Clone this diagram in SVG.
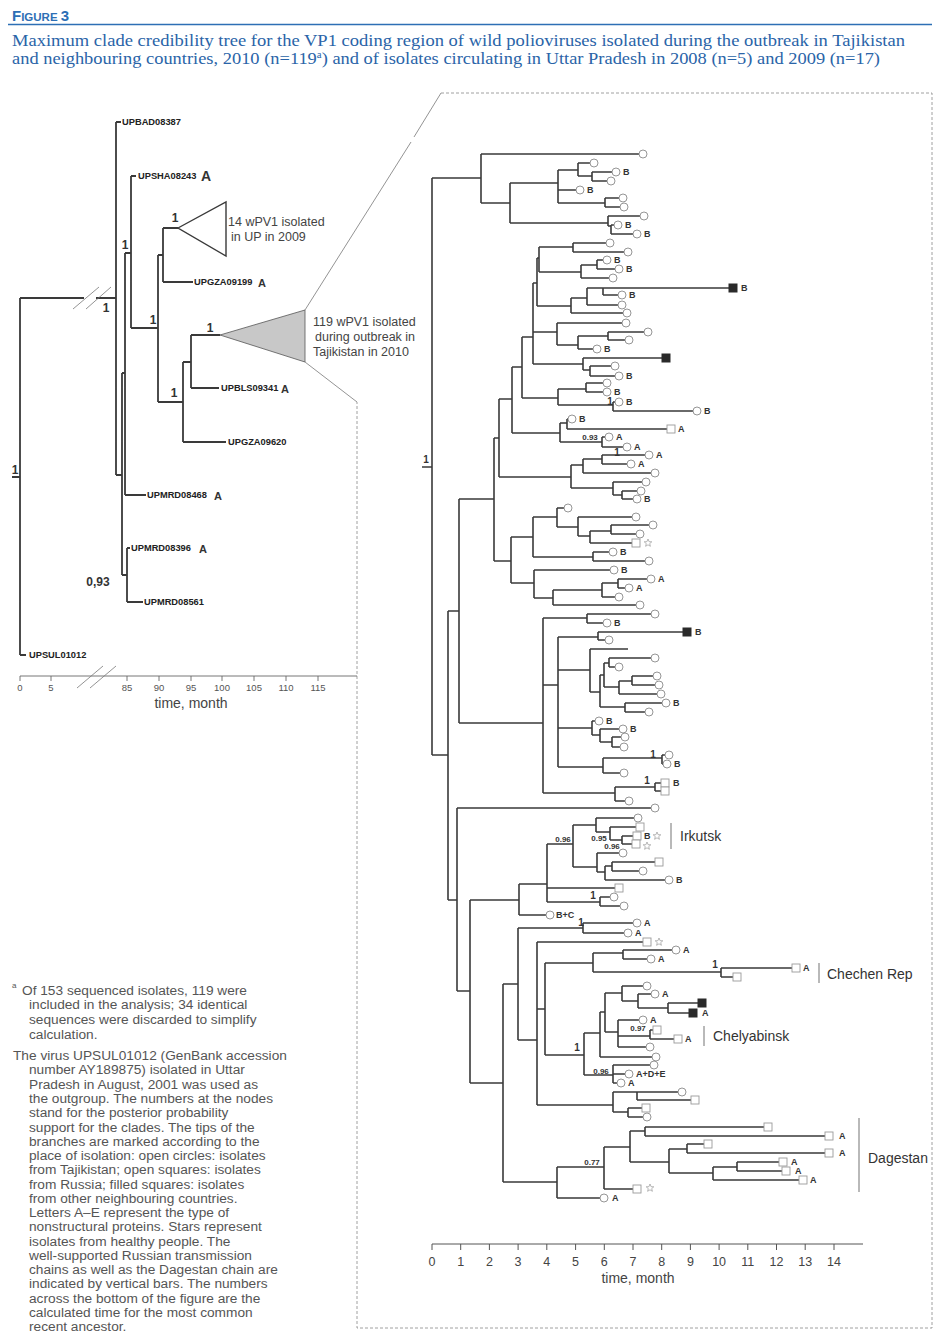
<svg xmlns="http://www.w3.org/2000/svg" xmlns:xlink="http://www.w3.org/1999/xlink" width="943" height="1340" viewBox="0 0 943 1340">
<style>
.br{fill:none;stroke:#3a3a3a;stroke-width:1.6}
.brl{fill:none;stroke:#3a3a3a;stroke-width:1.8}
.thin{fill:none;stroke:#777;stroke-width:0.8}
.dash{fill:none;stroke:#888;stroke-width:0.8;stroke-dasharray:3 2}
.lt{font-family:"Liberation Sans",Arial,sans-serif;font-weight:bold;font-size:9.3px;fill:#222}
.lA{font-family:"Liberation Sans",Arial,sans-serif;font-weight:bold;font-size:11px;fill:#333}
.sup{font-family:"Liberation Sans",Arial,sans-serif;font-weight:bold;font-size:12px;fill:#333;text-anchor:middle}
.lb{font-family:"Liberation Sans",Arial,sans-serif;font-weight:bold;font-size:9px;fill:#333}
.pp{font-family:"Liberation Sans",Arial,sans-serif;font-weight:bold;font-size:8px;fill:#333;text-anchor:middle}
.p1{font-family:"Liberation Sans",Arial,sans-serif;font-weight:bold;font-size:10px;fill:#333;text-anchor:middle}
.ax{font-family:"Liberation Sans",Arial,sans-serif;font-size:9.5px;fill:#555;text-anchor:middle}
.axr{font-family:"Liberation Sans",Arial,sans-serif;font-size:12.5px;fill:#444;text-anchor:middle}
.ttl{font-family:"Liberation Sans",Arial,sans-serif;font-size:14px;fill:#444;text-anchor:middle}
.grp{font-family:"Liberation Sans",Arial,sans-serif;font-size:14px;fill:#333}
.note{font-family:"Liberation Sans",Arial,sans-serif;font-size:12.5px;fill:#444}
.fn{font-family:"Liberation Sans",Arial,sans-serif;font-size:13.7px;fill:#555}
.cap{font-family:"Liberation Serif","Times New Roman",serif;font-size:17px;fill:#2a64a8}
.bar{stroke:#8a8a8a;stroke-width:1.2}
</style>
<defs>
<circle id="c" r="4" fill="#fff" stroke="#8a8a8a" stroke-width="0.9"/>
<rect id="s" x="-4" y="-4" width="8" height="8" fill="#fff" stroke="#9a9a9a" stroke-width="0.9"/>
<rect id="f" x="-4.5" y="-4.5" width="9" height="9" fill="#2a2a2a"/>
<polygon id="st" points="0,-4 1.1,-1.3 3.8,-1.2 1.7,0.6 2.4,3.3 0,1.8 -2.4,3.3 -1.7,0.6 -3.8,-1.2 -1.1,-1.3" fill="#fff" stroke="#999" stroke-width="0.7"/>
</defs>
<rect width="943" height="1340" fill="#fff"/>

<g id="header">
<text x="12" y="21" font-family="'Liberation Sans',Arial,sans-serif" font-weight="bold" fill="#2d6fb5"><tspan font-size="15">F</tspan><tspan font-size="11.5">IGURE </tspan><tspan font-size="15">3</tspan></text>
<line x1="8" y1="24.5" x2="932" y2="24.5" stroke="#2d6fb5" stroke-width="1.4"/>
<text class="cap" x="12" y="46" textLength="893" lengthAdjust="spacingAndGlyphs">Maximum clade credibility tree for the VP1 coding region of wild polioviruses isolated during the outbreak in Tajikistan</text>
<text class="cap" x="12" y="64" textLength="868" lengthAdjust="spacingAndGlyphs">and neighbouring countries, 2010 (n=119<tspan font-size="10" dy="-6">a</tspan><tspan dy="6">) and of isolates circulating in Uttar Pradesh in 2008 (n=5) and 2009 (n=17)</tspan></text>
</g>

<g id="connectors">
<path class="brl" d="M20 298V655 M20 655H26 M20 298H84 M96 298H116 M12 477H20
M116 122V475 M116 122H121 M116 475H122
M122 373V575 M122 373H125 M122 575H127
M125 253V495 M125 253H131 M125 495H146
M131 176V328 M131 176H136 M131 328H158
M158 255V402 M158 255H163 M158 402H183
M163 228V282 M163 228H178 M163 282H193
M183 362V442 M183 362H191 M183 442H226
M191 335V388 M191 335H220 M191 388H219
M127 548V602 M127 548H130 M127 602H143"/>
<path class="thin" d="M73 309L99 287 M86 309L111 287"/>
<path class="thin" d="M441 93L414 137 M411 142L305 310 M305 362L357 402"/>
<path class="dash" d="M441 93H932V1328H357V402"/>
<path class="br" d="M422 467H432 M432 178V755 M432 178H481 M432 755H448
M481 154V203 M481 154H639 M481 203H510
M510 183V223 M510 183H558 M510 223H608
M558 170V203 M558 170H578 M558 190H576 M558 203H605
M578 163V176 M578 163H590 M578 176H592
M592 172V181 M592 172H612 M592 181H607
M605 198V207 M605 198H619 M605 207H620
M608 216V226 M608 216H640 M608 226H611
M611 225V234 M611 225H614 M611 234H633
M448 611V900 M448 611H459 M448 900H457
M459 499V723 M459 499H494 M459 723H543
M494 438V561 M494 438H499 M494 561H511
M499 399V477 M499 399H512 M499 477H571
M512 367V433 M512 367H522 M512 433H560
M522 337V398 M522 337H533 M522 398H558
M533 283V364 M533 283H537 M533 332H557 M533 364H583
M537 258V306 M537 258H539 M537 306H571
M539 247V272 M539 247H573 M539 272H581
M573 243V252 M573 243H606 M573 252H624
M581 265V278 M581 265H597 M581 278H609
M597 260V269 M597 260H603 M597 269H615
M571 298V313 M571 298H587 M571 313H623
M587 288V305 M587 288H603 M587 305H618
M603 288V295 M603 288H729 M603 295H618
M557 323V345 M557 323H622 M557 345H578
M578 336V349 M578 336H608 M578 349H593
M608 332V340 M608 332H644 M608 340H625
M583 358V370 M583 358H662 M583 370H590
M590 366V376 M590 366H611 M590 376H615
M558 389V405 M558 389H586 M558 405H613
M586 383V392 M586 383H603 M586 392H603
M613 402V411 M613 402H615 M613 411H693
M560 423V442 M560 423H567 M560 442H602
M567 419V429 M567 419H568 M567 429H667
M602 437V447 M602 437H605 M602 447H623
M571 465V488 M571 465H583 M571 488H613
M583 459V473 M583 459H602 M583 473H651
M602 455V464 M602 455H645 M602 464H627
M613 482V495 M613 482H642 M613 495H622
M622 491V499 M622 491H637 M622 499H633
M511 537V583 M511 537H533 M511 583H534
M533 517V557 M533 517H557 M533 557H593
M557 508V527 M557 508H564 M557 527H578
M578 517V536 M578 517H632 M578 536H590
M590 531V543 M590 531H611 M590 543H632
M611 525V534 M611 525H649 M611 534H636
M593 552V561 M593 552H609 M593 561H645
M534 570V598 M534 570H610 M534 598H553
M553 590V605 M553 590H602 M553 605H636
M602 583V597 M602 583H618 M602 597H615
M618 579V588 M618 579H647 M618 588H625
M543 618V793 M543 618H587 M543 685H558 M543 793H615
M587 614V623 M587 614H651 M587 623H603
M558 637V767 M558 637H598 M558 670H590 M558 728H592 M558 767H603
M598 632V640 M598 632H683 M598 640H605
M590 649V692 M590 649H628 M590 692H600
M600 675V707 M600 675H604 M600 707H625
M604 663V687 M604 663H609 M604 687H619
M609 658V667 M609 658H651 M609 667H615
M619 681V694 M619 681H632 M619 694H657
M632 676V685 M632 676H653 M632 685H655
M625 703V712 M625 703H662 M625 712H645
M592 721V735 M592 721H595 M592 735H600
M600 729V742 M600 729H619 M600 742H612
M612 737V747 M612 737H621 M612 747H620
M603 758V773 M603 758H662 M603 773H620
M662 755V764 M662 755H665 M662 764H663
M615 787V801 M615 787H655 M615 801H625
M655 783V791 M655 783H661 M655 791H661
M457 808V991 M457 808H651 M457 991H470
M470 900V1083 M470 900H519 M470 1083H503
M519 884V915 M519 884H547 M519 915H546
M547 844V902 M547 844H573 M547 888H615 M547 902H600
M573 825V867 M573 825H596 M573 867H597
M596 818V832 M596 818H634 M596 832H610
M610 827V840 M610 827H636 M610 840H622
M622 836V844 M622 836H633 M622 844H632
M597 853V872 M597 853H619 M597 872H605
M605 866V880 M605 866H612 M605 880H665
M612 862V871 M612 862H655 M612 871H639
M600 897V906 M600 897H610 M600 906H620
M503 984V1182 M503 984H518 M503 1182H557
M518 928V1040 M518 928H583 M518 1040H537
M583 923V933 M583 923H633 M583 933H624
M537 942V1105 M537 942H643 M537 1009H545 M537 1105H613
M545 963V1055 M545 963H593 M545 1055H584
M593 953V972 M593 953H623 M593 972H721
M623 950V959 M623 950H672 M623 959H647
M721 968V977 M721 968H792 M721 977H733
M584 1033V1075 M584 1033H600 M584 1075H613
M600 1012V1057 M600 1012H605 M600 1057H652
M605 993V1032 M605 993H622 M605 1032H618
M622 986V1001 M622 986H643 M622 1001H638
M638 994V1008 M638 994H651 M638 1008H668
M668 1003V1013 M668 1003H698 M668 1013H689
M618 1020V1047 M618 1020H639 M618 1036H650 M618 1047H646
M650 1030V1039 M650 1030H653 M650 1039H674
M613 1065V1083 M613 1065H650 M613 1074H625 M613 1083H617
M613 1092V1112 M613 1092H637 M613 1112H628
M637 1092V1100 M637 1092H678 M637 1100H691
M628 1108V1117 M628 1108H642 M628 1117H643
M557 1167V1198 M557 1167H604 M557 1198H600
M604 1147V1189 M604 1147H630 M604 1189H633
M630 1131V1162 M630 1131H645 M630 1162H669
M645 1127V1136 M645 1127H764 M645 1136H825
M669 1149V1173 M669 1149H687 M669 1173H713
M687 1144V1153 M687 1144H704 M687 1153H825
M713 1167V1180 M713 1167H737 M713 1180H799
M737 1162V1171 M737 1162H779 M737 1171H782"/>
</g>

<g id="left-tree">
<polygon id="triangle-up2009" points="178,228 226,202 226,256" fill="#fff" stroke="#3a3a3a" stroke-width="1.4"/>
<polygon id="triangle-tj2010" points="220,335 305,310 305,362" fill="#c8c8c8" stroke="#555" stroke-width="0.8"/>
<text class="note" x="228" y="226">14 wPV1 isolated</text>
<text class="note" x="231" y="241">in UP in 2009</text>
<text class="note" x="313" y="326">119 wPV1 isolated</text>
<text class="note" x="315" y="341">during outbreak in</text>
<text class="note" x="313" y="356">Tajikistan in 2010</text>
<g id="UPBAD08387"><text class="lt" x="122" y="125">UPBAD08387</text></g>
<g id="UPSHA08243"><text class="lt" x="138" y="179">UPSHA08243</text><text x="201" y="181" font-family="'Liberation Sans',Arial,sans-serif" font-weight="bold" font-size="14" fill="#333">A</text></g>
<g id="UPGZA09199"><text class="lt" x="194" y="285">UPGZA09199</text><text class="lA" x="258" y="287">A</text></g>
<g id="UPBLS09341"><text class="lt" x="221" y="391">UPBLS09341</text><text class="lA" x="281" y="393">A</text></g>
<g id="UPGZA09620"><text class="lt" x="228" y="445">UPGZA09620</text></g>
<g id="UPMRD08468"><text class="lt" x="147" y="498">UPMRD08468</text><text class="lA" x="214" y="500">A</text></g>
<g id="UPMRD08396"><text class="lt" x="131" y="551">UPMRD08396</text><text class="lA" x="199" y="553">A</text></g>
<g id="UPMRD08561"><text class="lt" x="144" y="605">UPMRD08561</text></g>
<g id="UPSUL01012"><text class="lt" x="29" y="658">UPSUL01012</text></g>
<g id="left-support">
<text class="sup" x="106" y="312">1</text>
<text class="sup" x="125" y="249">1</text>
<text class="sup" x="153" y="324">1</text>
<text class="sup" x="175" y="222">1</text>
<text class="sup" x="210" y="332">1</text>
<text class="sup" x="174" y="397">1</text>
<text class="sup" x="15" y="474">1</text>
<text class="sup" x="98" y="586">0,93</text>
</g>
<g id="left-axis">
<path d="M20 676H357 M20 676V681 M51 676V681 M127 676V681 M159 676V681 M191 676V681 M222 676V681 M254 676V681 M286 676V681 M318 676V681" fill="none" stroke="#666" stroke-width="0.9"/>
<path class="thin" d="M77 688L103 666 M90 688L116 666"/>
<text class="ax" x="20" y="691">0</text><text class="ax" x="51" y="691">5</text>
<text class="ax" x="127" y="691">85</text><text class="ax" x="159" y="691">90</text>
<text class="ax" x="191" y="691">95</text><text class="ax" x="222" y="691">100</text>
<text class="ax" x="254" y="691">105</text><text class="ax" x="286" y="691">110</text>
<text class="ax" x="318" y="691">115</text>
<text class="ttl" x="191" y="708">time, month</text>
</g>
</g>

<g id="right-tree">
<g id="tips-circles">
<use href="#c" x="643" y="154"/><use href="#c" x="594" y="163"/><use href="#c" x="616" y="172"/><use href="#c" x="611" y="181"/><use href="#c" x="580" y="190"/><use href="#c" x="623" y="198"/><use href="#c" x="624" y="207"/><use href="#c" x="644" y="216"/><use href="#c" x="618" y="225"/><use href="#c" x="637" y="234"/>
<use href="#c" x="610" y="243"/><use href="#c" x="628" y="252"/><use href="#c" x="607" y="260"/><use href="#c" x="619" y="269"/><use href="#c" x="613" y="278"/><use href="#c" x="622" y="295"/><use href="#c" x="622" y="305"/><use href="#c" x="627" y="313"/><use href="#c" x="626" y="323"/><use href="#c" x="648" y="332"/><use href="#c" x="629" y="340"/><use href="#c" x="597" y="349"/><use href="#c" x="615" y="366"/><use href="#c" x="619" y="376"/><use href="#c" x="607" y="383"/><use href="#c" x="607" y="392"/><use href="#c" x="619" y="402"/><use href="#c" x="697" y="411"/><use href="#c" x="572" y="419"/><use href="#c" x="609" y="437"/><use href="#c" x="627" y="447"/><use href="#c" x="649" y="455"/><use href="#c" x="631" y="464"/><use href="#c" x="655" y="473"/><use href="#c" x="646" y="482"/><use href="#c" x="641" y="491"/><use href="#c" x="637" y="499"/>
<use href="#c" x="568" y="508"/><use href="#c" x="636" y="517"/><use href="#c" x="653" y="525"/><use href="#c" x="640" y="534"/><use href="#c" x="613" y="552"/><use href="#c" x="649" y="561"/><use href="#c" x="614" y="570"/><use href="#c" x="651" y="579"/><use href="#c" x="629" y="588"/><use href="#c" x="619" y="597"/><use href="#c" x="640" y="605"/><use href="#c" x="655" y="614"/><use href="#c" x="607" y="623"/><use href="#c" x="609" y="640"/><use href="#c" x="655" y="658"/><use href="#c" x="619" y="667"/><use href="#c" x="657" y="676"/><use href="#c" x="659" y="685"/><use href="#c" x="661" y="694"/><use href="#c" x="666" y="703"/><use href="#c" x="649" y="712"/><use href="#c" x="599" y="721"/><use href="#c" x="623" y="729"/><use href="#c" x="625" y="737"/><use href="#c" x="624" y="747"/><use href="#c" x="669" y="755"/><use href="#c" x="667" y="764"/><use href="#c" x="624" y="773"/><use href="#c" x="629" y="801"/>
<use href="#c" x="655" y="808"/><use href="#c" x="638" y="818"/><use href="#c" x="623" y="853"/><use href="#c" x="643" y="871"/><use href="#c" x="669" y="880"/><use href="#c" x="614" y="897"/><use href="#c" x="624" y="906"/><use href="#c" x="550" y="915"/><use href="#c" x="637" y="923"/><use href="#c" x="628" y="933"/><use href="#c" x="676" y="950"/><use href="#c" x="651" y="959"/><use href="#c" x="647" y="986"/><use href="#c" x="655" y="994"/><use href="#c" x="643" y="1020"/><use href="#c" x="650" y="1047"/><use href="#c" x="656" y="1057"/><use href="#c" x="654" y="1065"/><use href="#c" x="629" y="1074"/><use href="#c" x="621" y="1083"/><use href="#c" x="682" y="1092"/><use href="#c" x="647" y="1117"/><use href="#c" x="604" y="1198"/>
</g>
<g id="tips-squares">
<use href="#s" x="671" y="429"/><use href="#s" x="636" y="543"/><use href="#s" x="665" y="783"/><use href="#s" x="665" y="791"/><use href="#s" x="640" y="827"/><use href="#s" x="637" y="836"/><use href="#s" x="636" y="844"/><use href="#s" x="659" y="862"/><use href="#s" x="619" y="888"/><use href="#s" x="647" y="942"/><use href="#s" x="796" y="968"/><use href="#s" x="737" y="977"/><use href="#s" x="657" y="1030"/><use href="#s" x="678" y="1039"/><use href="#s" x="695" y="1100"/><use href="#s" x="646" y="1108"/><use href="#s" x="768" y="1127"/><use href="#s" x="829" y="1136"/><use href="#s" x="708" y="1144"/><use href="#s" x="829" y="1153"/><use href="#s" x="783" y="1162"/><use href="#s" x="786" y="1171"/><use href="#s" x="803" y="1180"/><use href="#s" x="637" y="1189"/>
</g>
<g id="tips-filled">
<use href="#f" x="733" y="288"/><use href="#f" x="666" y="358"/><use href="#f" x="687" y="632"/><use href="#f" x="702" y="1003"/><use href="#f" x="693" y="1013"/>
</g>
<g id="tips-stars">
<use href="#st" x="648" y="543"/><use href="#st" x="657" y="836"/><use href="#st" x="647" y="846"/><use href="#st" x="659" y="942"/><use href="#st" x="650" y="1188"/>
</g>
<g id="tip-letters">
<text class="lb" x="623" y="175">B</text><text class="lb" x="587" y="193">B</text><text class="lb" x="625" y="228">B</text><text class="lb" x="644" y="237">B</text>
<text class="lb" x="614" y="263">B</text><text class="lb" x="626" y="272">B</text><text class="lb" x="741" y="291">B</text><text class="lb" x="629" y="298">B</text><text class="lb" x="604" y="352">B</text><text class="lb" x="626" y="379">B</text><text class="lb" x="614" y="395">B</text><text class="lb" x="626" y="405">B</text><text class="lb" x="704" y="414">B</text><text class="lb" x="579" y="422">B</text>
<text class="lb" x="678" y="432">A</text><text class="lb" x="616" y="440">A</text><text class="lb" x="634" y="450">A</text><text class="lb" x="656" y="458">A</text><text class="lb" x="638" y="467">A</text><text class="lb" x="644" y="502">B</text>
<text class="lb" x="620" y="555">B</text><text class="lb" x="621" y="573">B</text><text class="lb" x="658" y="582">A</text><text class="lb" x="636" y="591">A</text><text class="lb" x="614" y="626">B</text><text class="lb" x="695" y="635">B</text><text class="lb" x="673" y="706">B</text><text class="lb" x="606" y="724">B</text><text class="lb" x="630" y="732">B</text><text class="lb" x="674" y="767">B</text><text class="lb" x="673" y="786">B</text>
<text class="lb" x="644" y="839">B</text><text class="lb" x="676" y="883">B</text><text class="lb" x="556" y="918">B+C</text><text class="lb" x="644" y="926">A</text><text class="lb" x="635" y="936">A</text><text class="lb" x="683" y="953">A</text><text class="lb" x="658" y="962">A</text><text class="lb" x="803" y="971">A</text><text class="lb" x="662" y="997">A</text><text class="lb" x="702" y="1016">A</text><text class="lb" x="650" y="1023">A</text><text class="lb" x="685" y="1042">A</text><text class="lb" x="636" y="1077">A+D+E</text><text class="lb" x="628" y="1086">A</text>
<text class="lb" x="839" y="1139">A</text><text class="lb" x="839" y="1156">A</text><text class="lb" x="791" y="1165">A</text><text class="lb" x="795" y="1174">A</text><text class="lb" x="810" y="1183">A</text><text class="lb" x="612" y="1201">A</text>
</g>
<g id="right-support">
<text class="p1" x="426" y="463">1</text>
<text class="pp" x="590" y="440">0.93</text>
<text class="p1" x="617" y="456">1</text>
<text class="p1" x="610" y="405">1</text>
<text class="p1" x="653" y="758">1</text>
<text class="p1" x="647" y="784">1</text>
<text class="pp" x="563" y="842">0.96</text>
<text class="pp" x="599" y="841">0.95</text>
<text class="pp" x="612" y="849">0.96</text>
<text class="p1" x="593" y="899">1</text>
<text class="p1" x="581" y="926">1</text>
<text class="p1" x="715" y="968">1</text>
<text class="pp" x="638" y="1031">0.97</text>
<text class="p1" x="577" y="1051">1</text>
<text class="pp" x="601" y="1074">0.96</text>
<text class="pp" x="592" y="1165">0.77</text>
</g>
<g id="chains">
<g id="irkutsk"><line class="bar" x1="671" y1="823" x2="671" y2="849"/><text class="grp" x="680" y="841">Irkutsk</text></g>
<g id="chechen"><line class="bar" x1="819" y1="963" x2="819" y2="983"/><text class="grp" x="827" y="979">Chechen Rep</text></g>
<g id="chelyabinsk"><line class="bar" x1="704" y1="1026" x2="704" y2="1046"/><text class="grp" x="713" y="1041">Chelyabinsk</text></g>
<g id="dagestan"><line class="bar" x1="859" y1="1118" x2="859" y2="1192"/><text class="grp" x="868" y="1163">Dagestan</text></g>
</g>
<g id="right-axis">
<path d="M432 1244H863 M432 1244V1250 M460.7 1244V1250 M489.4 1244V1250 M518.1 1244V1250 M546.8 1244V1250 M575.6 1244V1250 M604.3 1244V1250 M633 1244V1250 M661.7 1244V1250 M690.4 1244V1250 M719.1 1244V1250 M747.8 1244V1250 M776.5 1244V1250 M805.2 1244V1250 M834 1244V1250" fill="none" stroke="#555" stroke-width="1"/>
<text class="axr" x="432" y="1266">0</text><text class="axr" x="460.7" y="1266">1</text><text class="axr" x="489.4" y="1266">2</text><text class="axr" x="518.1" y="1266">3</text><text class="axr" x="546.8" y="1266">4</text><text class="axr" x="575.6" y="1266">5</text><text class="axr" x="604.3" y="1266">6</text><text class="axr" x="633" y="1266">7</text><text class="axr" x="661.7" y="1266">8</text><text class="axr" x="690.4" y="1266">9</text><text class="axr" x="719.1" y="1266">10</text><text class="axr" x="747.8" y="1266">11</text><text class="axr" x="776.5" y="1266">12</text><text class="axr" x="805.2" y="1266">13</text><text class="axr" x="834" y="1266">14</text>
<text class="ttl" x="638" y="1283">time, month</text>
</g>
</g>

<g id="footnote">
<text x="12" y="988" style="font-family:'Liberation Sans',Arial,sans-serif;font-size:8px;fill:#555">a</text>
<text class="fn" x="22" y="995">Of 153 sequenced isolates, 119 were</text>
<text class="fn" x="29" y="1009">included in the analysis; 34 identical</text>
<text class="fn" x="29" y="1024">sequences were discarded to simplify</text>
<text class="fn" x="29" y="1039">calculation.</text>
<text class="fn" x="13" y="1060">The virus UPSUL01012 (GenBank accession</text>
<text class="fn" x="29" y="1074">number AY189875) isolated in Uttar</text>
<text class="fn" x="29" y="1089">Pradesh in August, 2001 was used as</text>
<text class="fn" x="29" y="1103">the outgroup. The numbers at the nodes</text>
<text class="fn" x="29" y="1117">stand for the posterior probability</text>
<text class="fn" x="29" y="1132">support for the clades. The tips of the</text>
<text class="fn" x="29" y="1146">branches are marked according to the</text>
<text class="fn" x="29" y="1160">place of isolation: open circles: isolates</text>
<text class="fn" x="29" y="1174">from Tajikistan; open squares: isolates</text>
<text class="fn" x="29" y="1189">from Russia; filled squares: isolates</text>
<text class="fn" x="29" y="1203">from other neighbouring countries.</text>
<text class="fn" x="29" y="1217">Letters A–E represent the type of</text>
<text class="fn" x="29" y="1231">nonstructural proteins. Stars represent</text>
<text class="fn" x="29" y="1246">isolates from healthy people. The</text>
<text class="fn" x="29" y="1260">well-supported Russian transmission</text>
<text class="fn" x="29" y="1274">chains as well as the Dagestan chain are</text>
<text class="fn" x="29" y="1288">indicated by vertical bars. The numbers</text>
<text class="fn" x="29" y="1303">across the bottom of the figure are the</text>
<text class="fn" x="29" y="1317">calculated time for the most common</text>
<text class="fn" x="29" y="1331">recent ancestor.</text>
</g>
</svg>
